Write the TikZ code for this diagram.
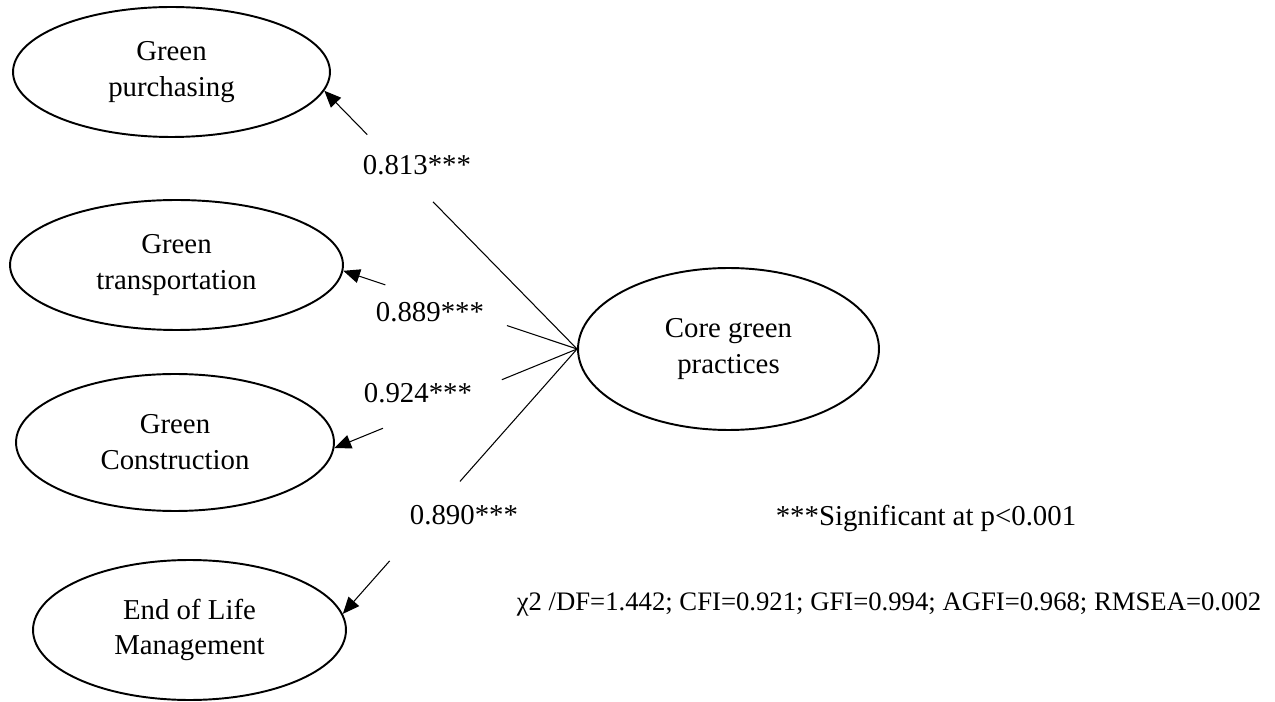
\documentclass[tikz,border=0pt]{standalone}
\usepackage{fontspec}
\setmainfont{Liberation Serif}
\usetikzlibrary{shapes.geometric,arrows.meta,calc}

\tikzset{
    factor/.style={draw, ellipse, line width=1.1pt, inner sep=0pt, align=center, font=\fontsize{16.4}{20.4}\selectfont},
    load/.style={font=\fontsize{16.4}{20.4}\selectfont},
    link/.style={line width=0.6pt},
    arr/.style={-{Triangle[length=9.5pt,width=8pt]}}
}

\begin{document}
\begin{tikzpicture}[x=0.02cm, y=-0.02cm]
    \useasboundingbox (0,0) rectangle (1275,702);

    % Factors
    \node[factor, minimum width=6.34cm, minimum height=2.6cm] (gp) at (171.5,72) {Green\\purchasing};
    \node[factor, minimum width=6.66cm, minimum height=2.6cm] (gt) at (176.5,265) {Green\\transportation};
    \node[factor, minimum width=6.36cm, minimum height=2.74cm] (gc) at (175,442.5) {Green\\Construction};
    \node[factor, minimum width=6.26cm, minimum height=2.8cm] (ge) at (189.5,630) {End of Life\\Management};
    \node[factor, minimum width=6.02cm, minimum height=3.24cm] (core) at (728.5,349) {Core green\\practices};

    % Loadings
    \coordinate (hub) at (core.west);
    \foreach \f/\a/\s/\e in {gp/-7/0.57/0.83, gt/-2/0.30/0.82, gc/-2/0.31/0.80, ge/6/0.50/0.80} {
        \draw[link] (hub) -- ($(hub)!\s!(\f.\a)$);
        \draw[link, arr] ($(hub)!\e!(\f.\a)$) -- (\f.\a);
    }
    \node[load] (l1) at (417,165) {0.813***};
    \node[load] (l2) at (430,312) {0.889***};
    \node[load] (l3) at (418,393) {0.924***};
    \node[load] (l4) at (464,515) {0.890***};

    % Notes
    \node[load] (sig) at (926,518) {***Significant at p<0.001};
    \node[load, font=\fontsize{15.2}{19}\selectfont] (fit) at (889,604) {χ2 /DF=1.442; CFI=0.921; GFI=0.994; AGFI=0.968; RMSEA=0.002};
\end{tikzpicture}
\end{document}
